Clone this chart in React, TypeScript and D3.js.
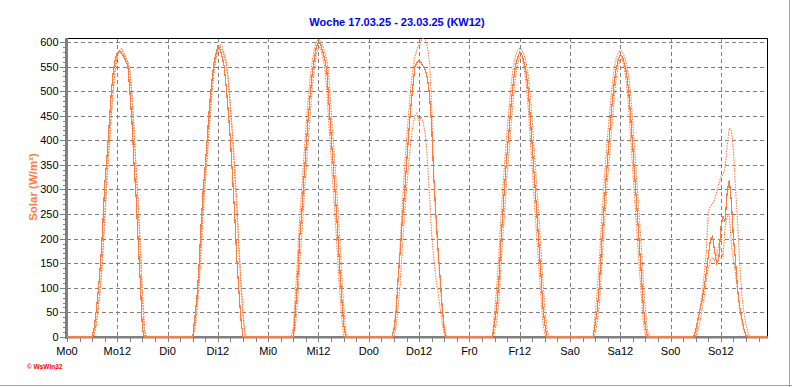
import React from 'react';
import * as d3 from 'd3';

const TITLE = 'Woche 17.03.25 - 23.03.25 (KW12)';
const Y_LABEL = 'Solar (W/m²)';
const WATERMARK = '© WsWin32';
const DAY_NAMES = ['Mo', 'Di', 'Mi', 'Do', 'Fr', 'Sa', 'So'];
const Y_TICKS = [0, 50, 100, 150, 200, 250, 300, 350, 400, 450, 500, 550, 600];
const X_END_HOURS = 167;
const Y_MAX = 608;

// samples: every half hour from 05:30 to 19:00 of each day
const SAMPLE_START = 5.5;
const SAMPLE_STEP = 0.5;

// solid line (average)
const avgMo = [0, 0, 20, 55, 97, 150, 220, 310, 362, 425, 490, 537, 565, 578, 582, 577, 570, 562, 553, 500, 437, 350, 282, 190, 110, 15, 0, 0];
const avgDi = [0, 0, 40, 80, 145, 230, 300, 350, 410, 470, 515, 555, 575, 592, 585, 570, 550, 508, 455, 400, 325, 250, 160, 95, 35, 0, 0, 0];
const avgMi = [0, 0, 55, 110, 200, 250, 320, 380, 440, 490, 535, 565, 590, 599, 595, 580, 565, 540, 475, 412, 350, 290, 225, 150, 85, 25, 0, 0];
const avgDo = [0, 15, 50, 120, 175, 238, 290, 350, 412, 465, 508, 550, 558, 563, 557, 550, 542, 525, 490, 430, 325, 250, 180, 122, 62, 15, 0, 0];
const avgFr = [0, 30, 60, 110, 190, 255, 320, 375, 425, 478, 520, 553, 568, 579, 575, 560, 540, 505, 450, 387, 325, 262, 200, 137, 65, 25, 0, 0];
const avgSa = [0, 25, 55, 105, 180, 245, 310, 365, 418, 470, 513, 545, 563, 574, 570, 556, 535, 500, 445, 383, 320, 258, 195, 130, 62, 20, 0, 0];
const avgSo = [0, 15, 35, 55, 75, 100, 130, 165, 198, 205, 175, 150, 158, 224, 245, 235, 295, 320, 275, 200, 155, 95, 60, 38, 15, 3, 0, 0];

// dotted line (maximum)
const maxMo = [0, 0, 5, 28, 62, 105, 165, 240, 320, 380, 445, 500, 545, 570, 582, 586, 578, 568, 560, 540, 490, 420, 340, 268, 180, 85, 12, 0];
const maxDi = [0, 0, 20, 60, 115, 190, 265, 325, 380, 440, 495, 540, 568, 588, 595, 590, 575, 560, 525, 470, 415, 345, 275, 190, 115, 50, 5, 0];
const maxMi = [0, 20, 90, 160, 240, 300, 365, 425, 480, 525, 560, 585, 600, 605, 603, 592, 580, 565, 525, 465, 400, 345, 280, 210, 135, 65, 10, 0];
const maxDo = [0, 15, 60, 120, 190, 270, 340, 400, 455, 505, 545, 570, 585, 595, 603, 607, 604, 590, 560, 470, 330, 240, 175, 115, 60, 20, 0, 0];
const maxFr = [0, 50, 100, 160, 240, 305, 365, 420, 470, 515, 550, 572, 582, 587, 584, 575, 560, 535, 495, 440, 378, 315, 255, 190, 120, 60, 15, 0];
const maxSa = [0, 45, 95, 155, 232, 298, 358, 412, 462, 508, 543, 566, 578, 583, 580, 570, 555, 530, 490, 435, 372, 310, 250, 185, 115, 55, 12, 0];
const maxSo = [0, 3, 30, 58, 85, 125, 170, 255, 265, 270, 280, 295, 312, 325, 330, 345, 390, 425, 420, 380, 300, 230, 150, 85, 50, 25, 8, 0];

// dotted line (minimum)
const minMo = [0, 0, 5, 28, 62, 105, 165, 240, 320, 380, 445, 500, 545, 570, 582, 586, 578, 568, 560, 540, 490, 420, 340, 268, 180, 85, 12, 0];
const minDi = [0, 0, 15, 55, 105, 180, 255, 320, 370, 430, 490, 535, 565, 582, 590, 585, 570, 555, 520, 462, 405, 335, 265, 180, 105, 40, 3, 0];
const minMi = [0, 0, 25, 70, 150, 205, 275, 335, 395, 450, 505, 545, 575, 590, 588, 570, 545, 500, 430, 365, 300, 240, 170, 100, 40, 0, 0, 0];
const minDo = [0, 0, 20, 60, 110, 180, 245, 300, 350, 395, 430, 450, 455, 440, 448, 435, 410, 360, 285, 210, 160, 120, 90, 60, 30, 5, 0, 0];
const minFr = [0, 10, 30, 70, 140, 205, 270, 330, 380, 435, 485, 530, 555, 570, 570, 550, 520, 470, 405, 340, 275, 212, 150, 90, 30, 5, 0, 0];
const minSa = [0, 8, 28, 65, 135, 200, 265, 325, 375, 430, 480, 525, 550, 565, 565, 545, 515, 465, 400, 335, 270, 208, 145, 85, 28, 4, 0, 0];
const minSo = [0, 0, 12, 30, 55, 80, 115, 140, 156, 162, 155, 165, 188, 180, 163, 224, 245, 250, 190, 155, 128, 95, 55, 34, 15, 5, 0, 0];

const avgDays = [avgMo, avgDi, avgMi, avgDo, avgFr, avgSa, avgSo];
const maxDays = [maxMo, maxDi, maxMi, maxDo, maxFr, maxSa, maxSo];
const minDays = [minMo, minDi, minMi, minDo, minFr, minSa, minSo];

type Pt = [number, number];

function buildSeries(days: number[][]): Pt[] {
  const pts: Pt[] = [[0, 0]];
  days.forEach((vals, d) => {
    vals.forEach((v, i) => {
      pts.push([d * 24 + SAMPLE_START + i * SAMPLE_STEP, v]);
    });
  });
  pts.push([X_END_HOURS, 0]);
  return pts;
}

const W = 792;
const H = 387;
const M = { left: 67, right: 767, top: 38, bottom: 337 };
const ORANGE = '#ff7c3c';
const GRID = '#808080';
const FONT = 'Arial, "Liberation Sans", sans-serif';

export default function App() {
  const x = d3.scaleLinear().domain([0, X_END_HOURS]).range([M.left, M.right]);
  const y = d3.scaleLinear().domain([0, Y_MAX]).range([M.bottom, M.top]);
  const line = d3
    .line<Pt>()
    .x((p) => x(p[0]))
    .y((p) => y(p[1]));

  const xMajor = d3.range(0, X_END_HOURS + 0.01, 12);
  const xMinor = d3.range(0, X_END_HOURS, 3);
  const yMinor = d3.range(0, Y_MAX, 10);

  const labels = xMajor.map((h) => DAY_NAMES[Math.floor(h / 24)] + (h % 24));

  return (
    <svg
      width={W}
      height={H}
      style={{ position: 'absolute', left: 0, top: 0, background: '#fff' }}
      fontFamily={FONT}
    >
      <rect x={0} y={0} width={W} height={H} fill="#fff" />
      {/* outer frame edges */}
      <line x1={0} y1={385.5} x2={W} y2={385.5} stroke="#a0a0a0" />
      <line x1={789.5} y1={0} x2={789.5} y2={H} stroke="#a0a0a0" />

      {/* grid */}
      {Y_TICKS.filter((v) => v > 0).map((v) => (
        <line
          key={'gy' + v}
          x1={M.left}
          x2={M.right}
          y1={Math.round(y(v)) + 0.5}
          y2={Math.round(y(v)) + 0.5}
          stroke={GRID}
          strokeDasharray="4,3"
          shapeRendering="crispEdges"
        />
      ))}
      {xMajor
        .filter((h) => h > 0)
        .map((h) => (
          <line
            key={'gx' + h}
            x1={Math.round(x(h)) + 0.5}
            x2={Math.round(x(h)) + 0.5}
            y1={M.top}
            y2={M.bottom}
            stroke={GRID}
            strokeDasharray="4,3"
            shapeRendering="crispEdges"
          />
        ))}

      {/* frame top & right */}
      <line x1={M.left} x2={M.right + 1} y1={M.top + 0.5} y2={M.top + 0.5} stroke="#000" shapeRendering="crispEdges" />
      <line x1={M.right + 0.5} x2={M.right + 0.5} y1={M.top} y2={M.bottom} stroke="#000" shapeRendering="crispEdges" />

      {/* axes */}
      <rect x={65} y={M.top} width={3} height={M.bottom - M.top + 2} fill={GRID} />
      <rect x={65} y={336} width={M.right - 65 + 1} height={2.5} fill={GRID} />
      {yMinor.map((v) => (
        <line
          key={'ty' + v}
          x1={v % 50 === 0 ? 60 : 62.5}
          x2={65}
          y1={Math.round(y(v)) + 0.5}
          y2={Math.round(y(v)) + 0.5}
          stroke={GRID}
          shapeRendering="crispEdges"
        />
      ))}
      {xMinor.map((h) => (
        <line
          key={'tx' + h}
          x1={Math.round(x(h)) + 0.5}
          x2={Math.round(x(h)) + 0.5}
          y1={338}
          y2={342}
          stroke={GRID}
          shapeRendering="crispEdges"
        />
      ))}

      {/* tick labels */}
      {Y_TICKS.map((v) => (
        <text key={'ly' + v} x={58.5} y={y(v) + 4} textAnchor="end" fontSize={11} fill="#000">
          {v}
        </text>
      ))}
      {xMajor.map((h, i) => (
        <text key={'lx' + h} x={x(h)} y={355} textAnchor="middle" fontSize={11} fill="#000">
          {labels[i]}
        </text>
      ))}

      {/* series */}
      <path d={line(buildSeries(minDays)) || ''} fill="none" stroke={ORANGE} strokeWidth={1.1} strokeDasharray="1.5,1.2" />
      <path d={line(buildSeries(maxDays)) || ''} fill="none" stroke={ORANGE} strokeWidth={1.1} strokeDasharray="1.5,1.2" />
      <path d={line(buildSeries(avgDays)) || ''} fill="none" stroke={ORANGE} strokeWidth={1.2} shapeRendering="crispEdges" />

      {/* title & labels */}
      <text x={397} y={26} textAnchor="middle" fontSize={11} fontWeight="bold" fill="#0000ff">
        {TITLE}
      </text>
      <text
        transform="translate(36.5,187) rotate(-90)"
        textAnchor="middle"
        fontSize={11.5}
        fontWeight="bold"
        fill={ORANGE}
      >
        {Y_LABEL}
      </text>
      <text x={27} y={369} fontSize={6.5} fontWeight="bold" fill="#ff0000">
        {WATERMARK}
      </text>
    </svg>
  );
}
